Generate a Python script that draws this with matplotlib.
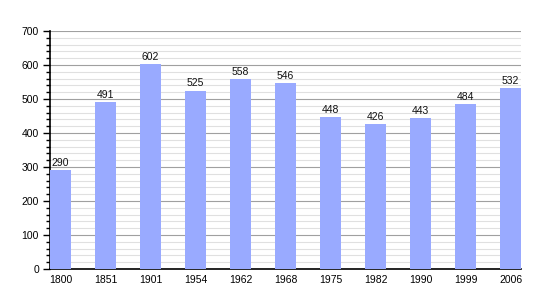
import matplotlib
matplotlib.use("Agg")
import matplotlib.pyplot as plt
from matplotlib.ticker import MultipleLocator

years = ["1800", "1851", "1901", "1954", "1962", "1968", "1975", "1982", "1990", "1999", "2006"]
population = [290, 491, 602, 525, 558, 546, 448, 426, 443, 484, 532]

plt.rcParams['font.family'] = ['Liberation Sans', 'DejaVu Sans']

fig = plt.figure(figsize=(5.5, 3.0), dpi=100)
ax = fig.add_axes([50/550, 31/300, 471/550, 238/300])

x = list(range(len(years)))
bw = 21/45
ax.bar(x, population, width=bw, color="#99aaff", zorder=3)
for xi, v in zip(x, population):
    ax.text(xi, v + 6, str(v), ha="center", va="bottom", fontsize=7.5, color="#111111", zorder=4)

ax.set_xlim(-bw/2, len(years) - 1 + bw/2)
ax.set_ylim(0, 700)
ax.yaxis.set_major_locator(MultipleLocator(100))
ax.yaxis.set_minor_locator(MultipleLocator(20))
ax.set_xticks(x)
ax.set_xticklabels(years)
ax.tick_params(axis="x", length=0, labelsize=7.5, pad=4)
ax.tick_params(axis="y", which="major", length=5, width=1, labelsize=7.5, pad=3)
ax.tick_params(axis="y", which="minor", length=3, width=1)
ax.grid(axis="y", which="major", color="#a0a0a0", linewidth=0.8, zorder=0)
ax.grid(axis="y", which="minor", color="#e0e0e0", linewidth=0.8, zorder=0)
for s in ["top", "right"]:
    ax.spines[s].set_visible(False)
ax.spines["left"].set_linewidth(1.2)
ax.spines["bottom"].set_linewidth(1.2)

fig.savefig("out.png", dpi=100, facecolor="white")
